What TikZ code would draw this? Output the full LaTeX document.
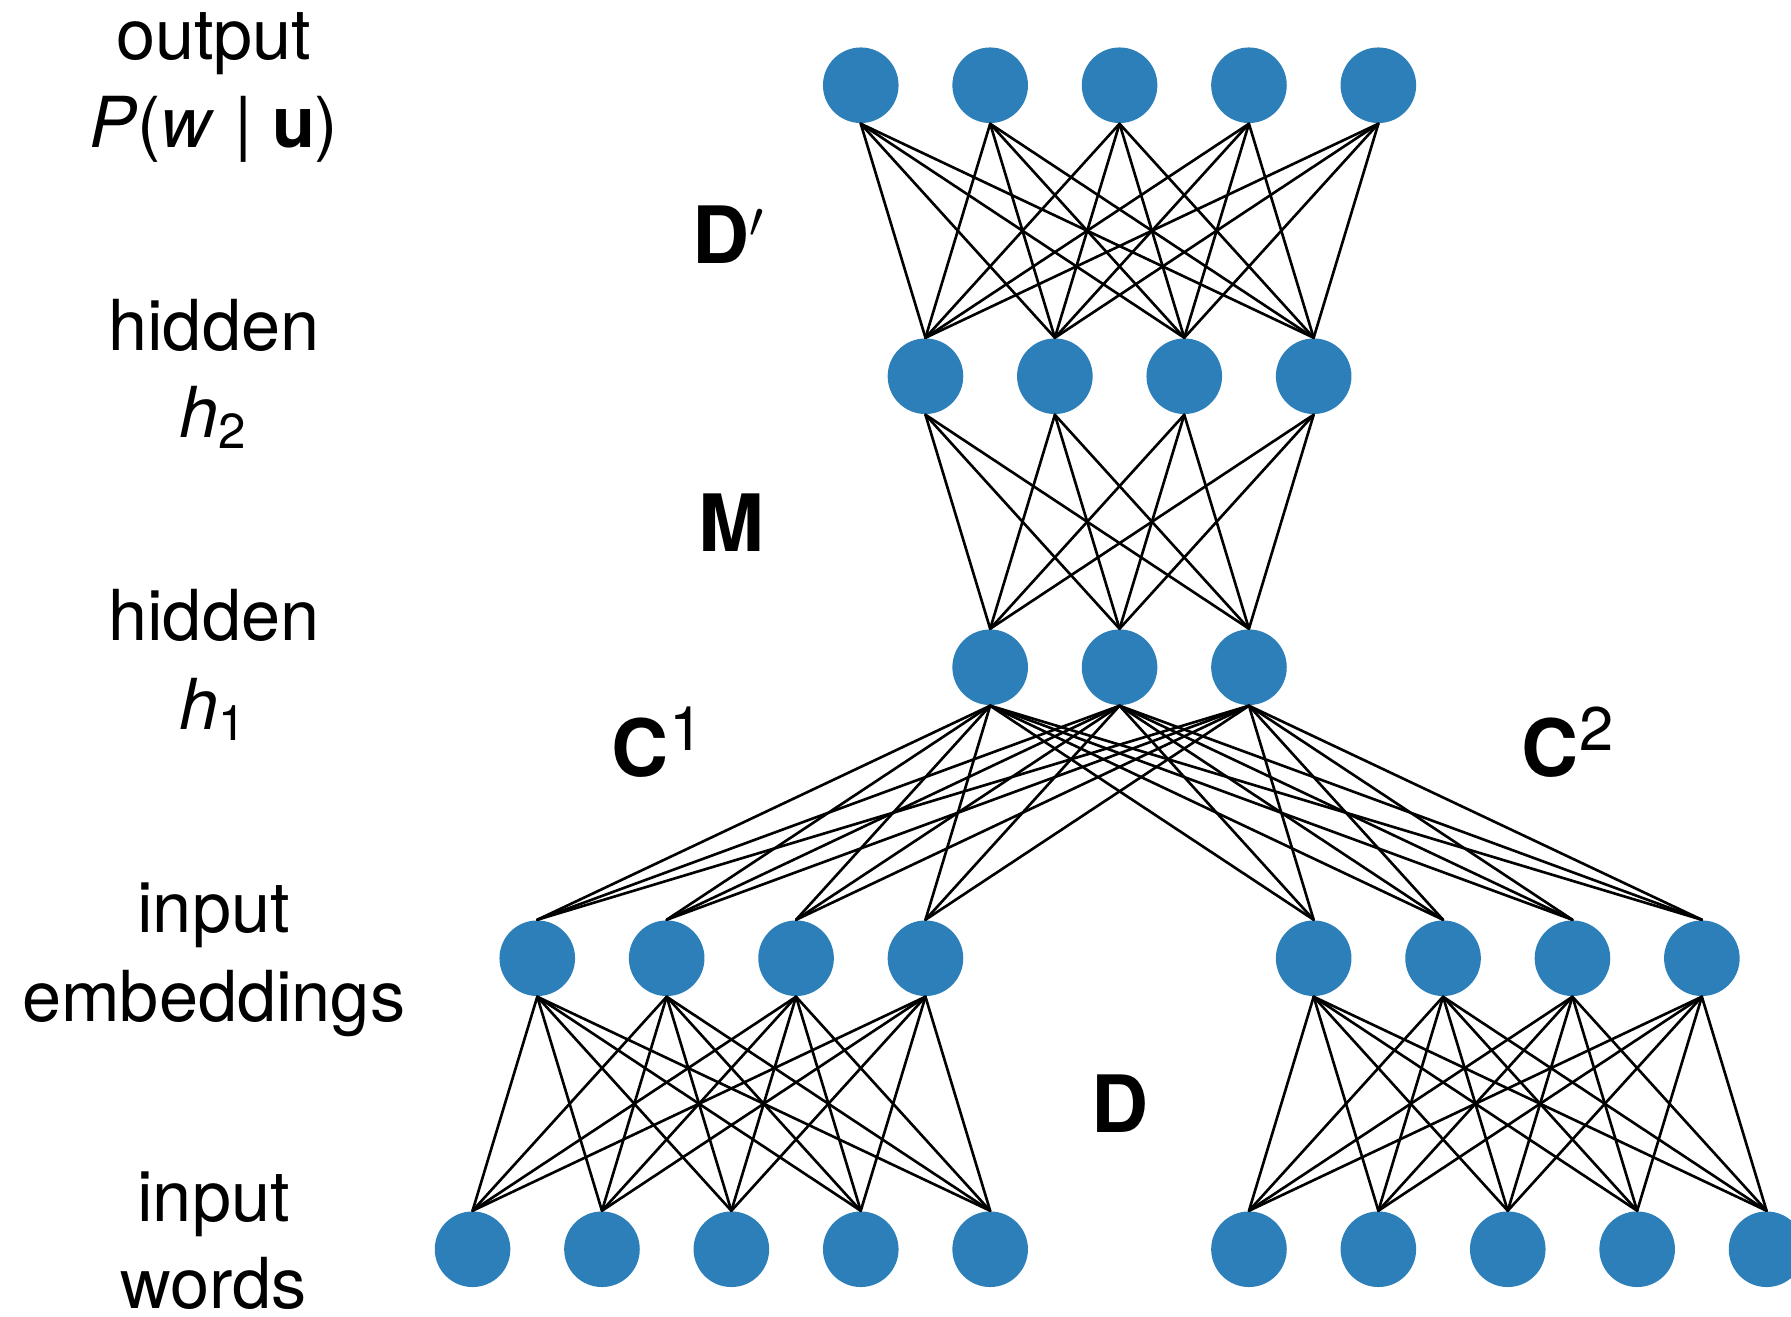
\documentclass[tikz,border=0pt]{standalone}
\usepackage{fontspec}
\setmainfont{TeX Gyre Heros}
\usetikzlibrary{arrows}
\definecolor{unitblue}{HTML}{2C7FB8}
\newcommand{\supnum}[1]{\textsuperscript{\fontsize{17.5}{20}\selectfont\mdseries #1}}
\tikzset{
    unit/.style={circle,fill=unitblue,inner sep=0pt,minimum size=0.756cm},
    wire/.style={line width=0.75pt,black},
    lbl/.style={anchor=base,inner sep=0pt,font=\fontsize{20}{24}\selectfont},
    mat/.style={anchor=base,inner sep=0pt,font=\fontsize{22.5}{27}\selectfont\bfseries}
}

\begin{document}
\begin{tikzpicture}[line cap=round,line join=round,x=1.294cm,y=2.91cm]
    \useasboundingbox (-3.652,-0.2326) rectangle (10.189,4.293);
    % units, layer by layer
    \foreach \i in {0,...,4} {
        \node[unit] (wl\i) at (\i,0) {};
        \node[unit] (wr\i) at (\i+6,0) {};
    }
    \foreach \i in {0,...,3} {
        \node[unit] (el\i) at (\i+0.5,1) {};
        \node[unit] (er\i) at (\i+6.5,1) {};
    }
    \foreach \i in {0,1,2} \node[unit] (hone\i) at (\i+4,2) {};
    \foreach \i in {0,...,3} \node[unit] (htwo\i) at (\i+3.5,3) {};
    \foreach \i in {0,...,4} \node[unit] (out\i) at (\i+3,4) {};
    % weights
    \foreach \i in {0,...,4} \foreach \j in {0,...,3}
        \draw[wire] (out\i.south) -- (htwo\j.north);
    \foreach \i in {0,...,3} \foreach \j in {0,1,2}
        \draw[wire] (htwo\i.south) -- (hone\j.north);
    \foreach \i in {0,1,2} \foreach \j in {0,...,3} {
        \draw[wire] (hone\i.south) -- (el\j.north);
        \draw[wire] (hone\i.south) -- (er\j.north);
    }
    \foreach \i in {0,...,3} \foreach \j in {0,...,4} {
        \draw[wire] (el\i.south) -- (wl\j.north);
        \draw[wire] (er\i.south) -- (wr\j.north);
    }
    % layer names
    \node[lbl] (outa) at (-2,4.087) {output};
    \node[lbl] (outb) at (-2,3.785) {\textit{P}(\textit{w} | \textbf{u})};
    \node[lbl] (htwoa) at (-2,3.088) {hidden};
    \node[lbl] (htwob) at (-2,2.788) {\textit{h}\textsubscript{2}};
    \node[lbl] (honea) at (-2,2.091) {hidden};
    \node[lbl] (honeb) at (-2,1.785) {\textit{h}\textsubscript{1}};
    \node[lbl] (emba) at (-2,1.088) {input};
    \node[lbl] (embb) at (-2,0.782) {embeddings};
    \node[lbl] (wrda) at (-2,0.095) {input};
    \node[lbl] (wrdb) at (-2,-0.202) {words};
    % weight matrices
    \node[mat] (dout) at (1.98,3.386) {D$'$};
    \node[mat] (mhid) at (2.0,2.397) {M};
    \node[mat] (cone) at (1.437,1.623) {C\supnum{1}};
    \node[mat] (ctwo) at (8.469,1.623) {C\supnum{2}};
    \node[mat] (dinp) at (5.0,0.400) {D};
\end{tikzpicture}
\end{document}
